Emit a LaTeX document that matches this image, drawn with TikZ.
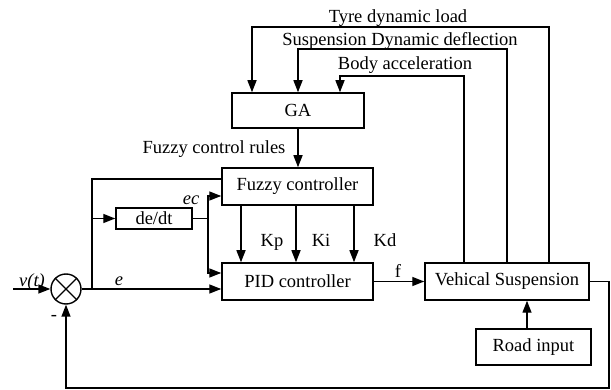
\documentclass[tikz,border=0pt]{standalone}
\usepackage{fontspec}
\setmainfont{Liberation Serif}
\usetikzlibrary{arrows.meta}
\begin{document}
\begin{tikzpicture}[x=1pt,y=-1pt,
  line width=1.4pt,
  box/.style={draw,rectangle,inner sep=0pt,line width=1.5pt},
  arr/.style={-{Triangle[length=12pt,width=9pt]}},
  lbl/.style={inner sep=0pt},
  font=\rmfamily\fontsize{18.5}{22}\selectfont]
\useasboundingbox (0,0) rectangle (611,390);

% blocks
\node[box,minimum width=132pt,minimum height=35pt] (ga) at (298,110.5) {GA};
\node[box,minimum width=151pt,minimum height=37pt] (fuzzy) at (297.5,186.5) {Fuzzy controller};
\node[box,minimum width=76pt,minimum height=21pt] (dedt) at (154,218.5) {de/dt};
\node[box,minimum width=151pt,minimum height=37pt] (pid) at (297.5,281.5) {PID controller};
\node[box,minimum width=164pt,minimum height=37pt] (veh) at (507,281.5) {Vehical Suspension};
\node[box,minimum width=115pt,minimum height=36pt] (road) at (533.5,347) {Road input};
\node[draw,circle,minimum size=30pt,inner sep=0pt] (sum) at (66,289) {};
\draw (sum.north west) -- (sum.south east);
\draw (sum.north east) -- (sum.south west);

% coordinates
\coordinate (in) at (13,289);
\coordinate (b) at (92,289);
\coordinate (b1) at (92,179);
\coordinate (j1) at (208,196);
\coordinate (j2) at (208,273);
\coordinate (fr) at (609,388);
\coordinate (t1) at (549,27);
\coordinate (t2) at (507,49);
\coordinate (t3) at (464,76);

% connectors
\draw[arr] (in) -- (sum.west);
\draw[arr] (sum.east) -- (pid.west |- sum.east);
\draw (b) -- (b1) -- (fuzzy.west |- b1);
\draw[arr] (b |- dedt.west) -- (dedt.west);
\draw[arr] (dedt.east) -| (j1) -- (fuzzy.west |- j1);
\draw[arr] (j1) |- (pid.west |- j2);
\draw[arr] (ga.south) -- (fuzzy.north -| ga.south);
\draw[arr] (fuzzy.south -| 241,0) -- (pid.north -| 241,0);
\draw[arr] (fuzzy.south -| 296,0) -- (pid.north -| 296,0);
\draw[arr] (fuzzy.south -| 354,0) -- (pid.north -| 354,0);
\draw[arr] (pid.east) -- (veh.west);
\draw[arr] (road.north -| 527,0) -- (veh.south -| 527,0);
\draw[arr] (veh.east) -| (fr) -| (sum.south);
\draw[arr] (veh.north -| t1) -- (t1) -| ([xshift=-46pt]ga.north);
\draw[arr] (veh.north -| t2) -- (t2) -| (ga.north);
\draw[arr] (veh.north -| t3) -- (t3) -| ([xshift=42pt]ga.north);

% labels
\node[lbl] (lt) at (398,18) {Tyre dynamic load};
\node[lbl] (ls) at (400,41) {Suspension Dynamic deflection};
\node[lbl] (lb) at (405,65) {Body acceleration};
\node[lbl] (lf) at (214,149) {Fuzzy control rules};
\node[lbl] (lec) at (191,200) {\itshape ec};
\node[lbl,anchor=base] (kp) at (272,247) {Kp};
\node[lbl,anchor=base] (ki) at (321,247) {Ki};
\node[lbl,anchor=base] (kd) at (385,247) {Kd};
\node[lbl] (lv) at (32,282) {\itshape v(t)};
\node[lbl] (le) at (119,281) {\itshape e};
\node[lbl] (lm) at (54,318) {-};
\node[lbl] (lff) at (398,271) {f};
\end{tikzpicture}
\end{document}
